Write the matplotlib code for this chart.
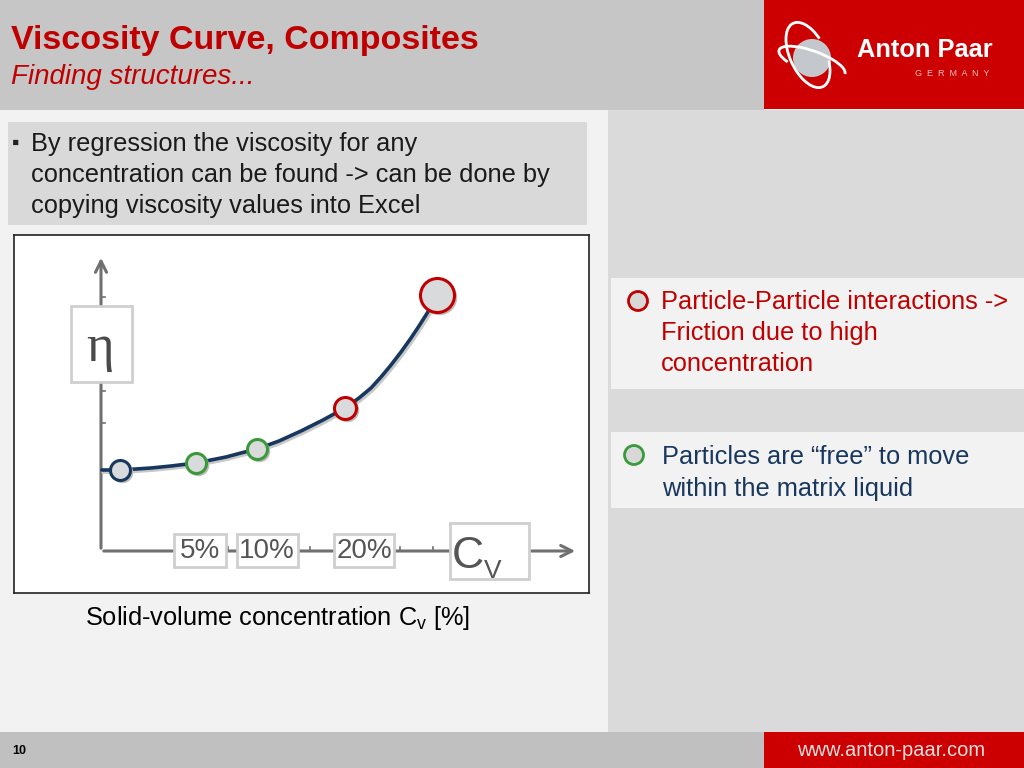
import numpy as np
import matplotlib
matplotlib.use("Agg")
import matplotlib.pyplot as plt
from matplotlib.patches import Rectangle, Circle, Arc

plt.rcParams['font.family'] = ['Liberation Sans', 'DejaVu Sans']

# curve (x, y in chart units, origin at axis cross)
curve_x = [1, 19, 35, 50, 70, 95, 110, 125, 140, 156, 178, 200, 222, 244,
           258, 270, 280, 290, 300, 310, 318, 325, 331, 336]
curve_y = [81, 81, 82, 83, 85, 88, 91, 94, 98, 102, 110, 120, 131, 143,
           153, 163, 174, 186, 199, 213, 225, 236, 246, 256]

# measured points
point_x = [19, 95, 156, 244, 336]
point_y = [81, 88, 102, 143, 256]
point_color = ['#17375e', '#3a9a3a', '#3a9a3a', '#c00000', '#c00000']
point_size = [20, 20, 20, 22, 34]

tick_labels = ['5%', '10%', '20%']
tick_label_x = [99, 166, 263]

RED = '#c00000'
NAVY = '#17375e'

fig = plt.figure(figsize=(10.24, 7.68), dpi=100)

# slide background in pixel coordinates
bg = fig.add_axes([0, 0, 1, 1])
bg.set_xlim(0, 1024)
bg.set_ylim(768, 0)
bg.axis('off')


def rect(x0, y0, x1, y1, color, **kw):
    bg.add_patch(Rectangle((x0, y0), x1 - x0, y1 - y0, fc=color, ec='none', **kw))


rect(0, 0, 1024, 768, '#f2f2f2')
rect(0, 0, 764, 110, '#c6c6c6')
rect(764, 0, 1024, 109, '#cc0000')
rect(608, 110, 1024, 732, '#dadada')
rect(611, 278, 1024, 389, '#f2f2f2')
rect(611, 432, 1024, 508, '#f2f2f2')
rect(8, 122, 587, 225, '#d9d9d9')
rect(0, 732, 1024, 768, '#c0c0c0')
rect(764, 732, 1024, 768, '#cc0000')

# title
bg.text(11, 40, 'Viscosity Curve, Composites', color=RED, fontsize=24.5,
        fontweight='bold', va='center', ha='left')
bg.text(11, 77, 'Finding structures...', color=RED, fontsize=20,
        style='italic', va='center', ha='left')

# logo
bg.add_patch(Circle((812, 58), 19, fc='#c4c8cc', ec='none'))
bg.add_patch(Arc((808, 55), 36, 70, angle=-25, theta1=40, theta2=330,
                 color='white', lw=2))
bg.add_patch(Arc((812, 62), 70, 22, angle=20, theta1=160, theta2=360,
                 color='white', lw=2))
bg.text(857, 50, 'Anton Paar', color='white', fontsize=18.3, fontweight='bold',
        va='center', ha='left')
bg.text(952, 73, 'G  E  R  M  A  N  Y', color='#f4c0c0', fontsize=6.5,
        va='center', ha='center')

# bullet text
bg.text(12, 143, '\u25aa', fontsize=15, va='center', ha='left', color='#222222')
for i, line in enumerate(['By regression the viscosity for any',
                          'concentration can be found -> can be done by',
                          'copying viscosity values into Excel']):
    bg.text(31, 144 + i * 31, line, fontsize=18.3, va='center', ha='left',
            color='#1a1a1a')

# right side notes
bg.add_patch(Circle((638, 301), 9.5, fc='#d8d8d8', ec=RED, lw=2))
for i, line in enumerate(['Particle-Particle interactions ->',
                          'Friction due to high', 'concentration']):
    bg.text(661, 302 + i * 31, line, fontsize=18.3, va='center', ha='left',
            color=RED)
bg.add_patch(Circle((634, 455), 9.5, fc='#d8d8d8', ec='#3a9a3a', lw=2))
for i, line in enumerate(['Particles are \u201cfree\u201d to move',
                          'within the matrix liquid']):
    bg.text(662, 457 + i * 32, line, fontsize=18.3, va='center', ha='left',
            color=NAVY)

# caption
bg.text(85, 618, 'Solid-volume concentration C$_\\mathregular{v}$ [%]',
        fontsize=18.3, va='center', ha='left', color='black')

# footer
bg.text(12, 751, '10', fontsize=9, fontweight='bold', va='center', ha='left')
bg.text(891, 750, 'www.anton-paar.com', fontsize=14.5, color='#f6dede',
        va='center', ha='center')

# chart panel
ax = fig.add_axes([14 / 1024, (768 - 593) / 768, 575 / 1024, 358 / 768])
ax.set_xlim(-87, 488)
ax.set_ylim(-42, 316)
ax.set_facecolor('white')
ax.set_xticks([])
ax.set_yticks([])
for s in ax.spines.values():
    s.set_color('#222222')
    s.set_linewidth(1.2)

AX_GRAY = '#707070'
ax.annotate('', xy=(477, 0), xytext=(0, 0),
            arrowprops=dict(arrowstyle='->,head_length=0.8,head_width=0.4',
                            color=AX_GRAY, lw=2.2))
ax.annotate('', xy=(0, 296), xytext=(0, 0),
            arrowprops=dict(arrowstyle='->,head_length=0.8,head_width=0.4',
                            color=AX_GRAY, lw=2.2))
for ty in [254, 160, 128, 81]:
    ax.plot([0, 4], [ty, ty], color=AX_GRAY, lw=1.2)
for tx in [127, 209, 299, 332]:
    ax.plot([tx, tx], [0, 4], color=AX_GRAY, lw=1.2)

# label boxes
def label_box(x0, y0, w, h):
    ax.add_patch(Rectangle((x0, y0), w, h, fc='white', ec='#cfcfcf', lw=2,
                           zorder=3))

label_box(-30, 169, 61, 76)
ax.text(-1, 203, '\u03b7', fontsize=38, family='Liberation Serif',
        ha='center', va='center', color='#4a4a4a', zorder=4)

box_w = [52, 61, 60]
for lx, lab, w in zip(tick_label_x, tick_labels, box_w):
    label_box(lx - w / 2, -16, w, 33)
    ax.text(lx, 0, lab, fontsize=20, ha='center', va='center',
            color='#555555', zorder=4)
label_box(349, -28, 79, 56)
ax.text(351, -5, 'C', fontsize=32, ha='left', va='center', color='#555555',
        zorder=4)
ax.text(383, -20, 'V', fontsize=19, ha='left', va='center', color='#555555',
        zorder=4)

# curve and points
ax.plot(np.array(curve_x) + 1.5, np.array(curve_y) - 1.5, color='#c8c8c8',
        lw=3.5, zorder=4, solid_capstyle='round')
ax.plot(curve_x, curve_y, color=NAVY, lw=2.6, zorder=5,
        solid_capstyle='round', solid_joinstyle='round')
for px, py, c, sz in zip(point_x, point_y, point_color, point_size):
    ax.plot(px + 2, py - 2, 'o', ms=sz * 0.72, color='#bbbbbb', zorder=5)
    ax.plot(px, py, 'o', ms=sz * 0.72, mfc='#d9dadc', mec=c, mew=2.2, zorder=6)

fig.savefig('out.png', dpi=100)
